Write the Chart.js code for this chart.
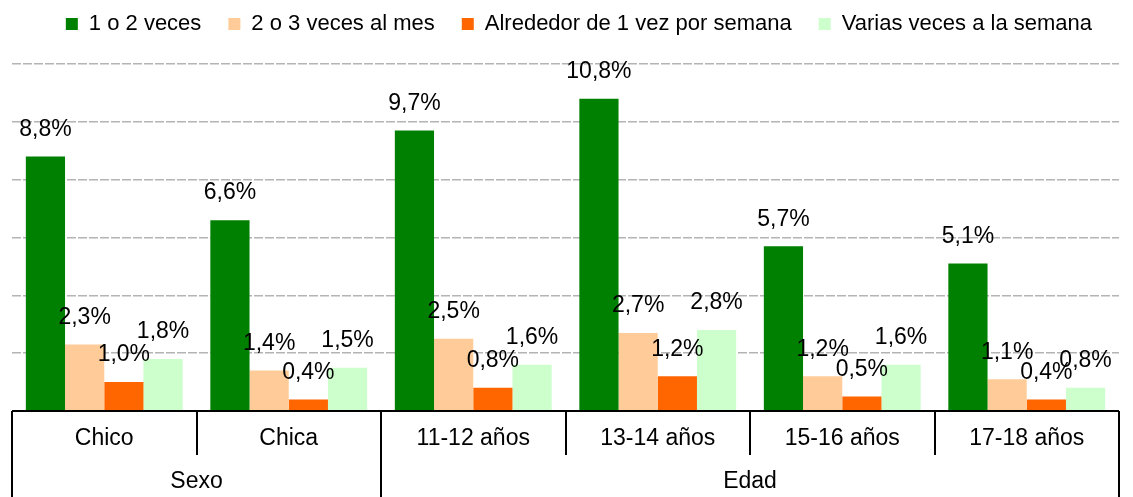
<!DOCTYPE html>
<html>
<head>
<meta charset="utf-8">
<script src="https://cdn.jsdelivr.net/npm/chart.js@4"></script>
<style>
    html, body { margin: 0; padding: 0; background: #fff; }
    #wrap { width: 1133px; height: 497px; }
</style>
</head>
<body>
<div id="wrap"><canvas id="frecuenciaChart"></canvas></div>
<script>
const categories = ['Chico', 'Chica', '11-12 años', '13-14 años', '15-16 años', '17-18 años'];
const groups = [
    { name: 'Sexo', from: 0, to: 1 },
    { name: 'Edad', from: 2, to: 5 },
];
const seriesNames = ['1 o 2 veces', '2 o 3 veces al mes', 'Alrededor de 1 vez por semana', 'Varias veces a la semana'];
const unoODos = [8.8, 6.6, 9.7, 10.8, 5.7, 5.1];
const dosOTres = [2.3, 1.4, 2.5, 2.7, 1.2, 1.1];
const unaPorSemana = [1.0, 0.4, 0.8, 1.2, 0.5, 0.4];
const variasPorSemana = [1.8, 1.5, 1.6, 2.8, 1.6, 0.8];
const seriesColors = ['#008000', '#FFCC99', '#FF6600', '#CCFFCC'];

const FONT = '"Liberation Sans", Arial, sans-serif';

function formatPct(v) {
    return v.toFixed(1).replace('.', ',') + '%';
}

// extra room between the legend and the plot
const legendSpacing = {
    id: 'legendSpacing',
    beforeInit(chart) {
        const fit = chart.legend.fit;
        chart.legend.fit = function () {
            fit.bind(chart.legend)();
            this.height += 19;
        };
    }
};

const valueLabels = {
    id: 'valueLabels',
    afterDatasetsDraw(chart) {
        const ctx = chart.ctx;
        ctx.save();
        ctx.font = '23px ' + FONT;
        ctx.fillStyle = '#000';
        ctx.textAlign = 'center';
        ctx.textBaseline = 'middle';
        chart.data.datasets.forEach((ds, i) => {
            chart.getDatasetMeta(i).data.forEach((bar, j) => {
                ctx.fillText(formatPct(ds.data[j]), bar.x, bar.y - 27);
            });
        });
        ctx.restore();
    }
};

const categoryTable = {
    id: 'categoryTable',
    afterDraw(chart) {
        const ctx = chart.ctx;
        const area = chart.chartArea;
        const xs = chart.scales.x;
        const edge = i => (i === 0 ? area.left : i === categories.length ? area.right : (xs.getPixelForValue(i - 1) + xs.getPixelForValue(i)) / 2);
        const base = area.bottom;

        ctx.save();
        ctx.strokeStyle = '#000';
        ctx.lineWidth = 2;
        ctx.beginPath();
        ctx.moveTo(area.left, base);
        ctx.lineTo(area.right, base);
        ctx.stroke();

        const groupEdges = new Set();
        groups.forEach(g => { groupEdges.add(g.from); groupEdges.add(g.to + 1); });
        for (let i = 0; i <= categories.length; i++) {
            const x = Math.round(edge(i));
            ctx.beginPath();
            ctx.moveTo(x, base);
            ctx.lineTo(x, groupEdges.has(i) ? chart.height : base + 44);
            ctx.stroke();
        }

        ctx.font = '23px ' + FONT;
        ctx.fillStyle = '#000';
        ctx.textAlign = 'center';
        ctx.textBaseline = 'middle';
        categories.forEach((c, i) => {
            ctx.fillText(c, xs.getPixelForValue(i), base + 28);
        });
        groups.forEach(g => {
            const x = (edge(g.from) + edge(g.to + 1)) / 2;
            ctx.fillText(g.name, x, base + 71);
        });
        ctx.restore();
    }
};

const datasets = [unoODos, dosOTres, unaPorSemana, variasPorSemana].map((data, i) => ({
    label: seriesNames[i],
    data,
    backgroundColor: seriesColors[i],
    borderWidth: 0,
}));

new Chart(document.getElementById('frecuenciaChart'), {
    type: 'bar',
    data: { labels: categories, datasets },
    options: {
        responsive: true,
        maintainAspectRatio: false,
        animation: false,
        layout: { padding: { left: 12, right: 14, top: -14, bottom: 86 } },
        datasets: {
            bar: { categoryPercentage: 0.85, barPercentage: 1 }
        },
        scales: {
            x: { display: false },
            y: {
                min: 0,
                max: 12,
                ticks: { display: false, stepSize: 2 },
                grid: { color: '#b4b4b4', lineWidth: 1.5, drawTicks: false },
                border: { display: false, dash: [9, 2] },
            }
        },
        plugins: {
            tooltip: { enabled: false },
            legend: {
                position: 'top',
                align: 'end',
                labels: {
                    boxWidth: 12,
                    boxHeight: 12,
                    padding: 27,
                    color: '#000',
                    font: { family: FONT, size: 22 },
                }
            }
        }
    },
    plugins: [legendSpacing, valueLabels, categoryTable]
});
</script>
</body>
</html>
